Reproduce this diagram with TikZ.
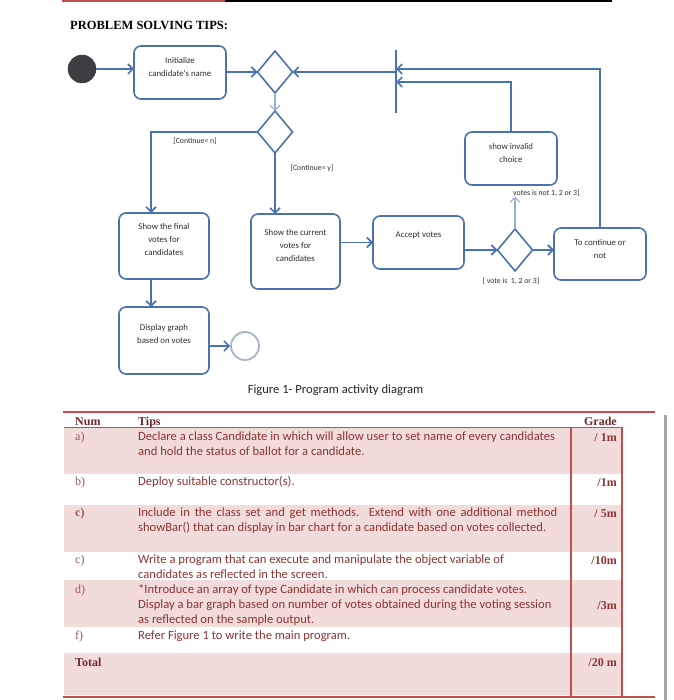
\documentclass[tikz,border=0pt]{standalone}
\usepackage{fontspec}
\setmainfont{Liberation Serif}
\newfontfamily\calibri{Carlito}
\usetikzlibrary{positioning, arrows.meta, shapes.geometric}

\definecolor{flujo}{RGB}{74,114,176}
\definecolor{flujoclaro}{RGB}{150,175,212}
\definecolor{finclaro}{RGB}{165,180,205}
\definecolor{inicio}{RGB}{62,62,66}
\definecolor{texto}{RGB}{45,45,45}
\definecolor{regla}{RGB}{192,80,77}
\definecolor{sombra}{RGB}{242,219,219}
\definecolor{granate}{RGB}{140,52,50}
\definecolor{granateosc}{RGB}{112,40,40}
\definecolor{granateclaro}{RGB}{165,85,82}

\begin{document}
\begin{tikzpicture}[x=1pt, y=-1pt, >={Straight Barb[length=5pt,width=10pt]},
		act/.style={draw=flujo, line width=1.6pt, rounded corners=7pt, inner sep=0pt, outer sep=0pt},
		rombo/.style={draw=flujo, line width=1.6pt, diamond, inner sep=0pt, outer sep=0pt, minimum width=35pt, minimum height=42pt},
		acttxt/.style={font=\calibri\fontsize{8.8}{13}\selectfont, text=texto, align=center, inner sep=0pt},
		guarda/.style={font=\calibri\fontsize{7.8}{9}\selectfont, text=texto, inner sep=0pt},
		flecha/.style={->, draw=flujo, line width=1.6pt},
		flechaclara/.style={->, draw=flujoclaro, line width=1.1pt},
		tip/.style={font=\calibri\fontsize{12.6}{15}\selectfont, text=granate, anchor=base west, inner sep=0pt},
		numero/.style={font=\fontsize{12}{14}\selectfont, text=granateclaro, anchor=base west, inner sep=0pt},
		nota/.style={font=\bfseries\fontsize{12}{14}\selectfont, text=granate, anchor=base east, inner sep=0pt},
		cabecera/.style={font=\bfseries\fontsize{12}{14}\selectfont, text=granateosc, inner sep=0pt}]
		
		\useasboundingbox (0,0) rectangle (673,700);
		
		% --- 1. CABECERA DE LA HOJA ---
		\draw[regla, line width=2pt] (62,1) -- (225,1);
		\draw[black, line width=2pt] (225,1) -- (612,1);
		\node[anchor=west, font=\bfseries\fontsize{12.5}{14}\selectfont, inner sep=0pt] (titulo) at (70,25) {PROBLEM SOLVING TIPS:};
		
		% --- 2. DIAGRAMA DE ACTIVIDAD ---
		% Nodo inicial y final
		\node[circle, fill=inicio, draw=inicio!80!black, minimum size=28pt, inner sep=0pt] (ini) at (82,69) {};
		\node[circle, draw=finclaro, line width=1.8pt, minimum size=28pt, inner sep=0pt] (fin) at (245,346) {};
		
		% Actividades
		\node[act, minimum width=92pt, minimum height=53pt] (init) at (180,72.5) {};
		\node[act, minimum width=90pt, minimum height=66pt] (final) at (164,246) {};
		\node[act, minimum width=89pt, minimum height=75pt] (current) at (295.5,251.5) {};
		\node[act, minimum width=91pt, minimum height=53pt] (accept) at (418.5,242.5) {};
		\node[act, minimum width=92pt, minimum height=53pt] (invalid) at (511,158.5) {};
		\node[act, minimum width=92pt, minimum height=52pt] (cont) at (600,254) {};
		\node[act, minimum width=90pt, minimum height=67pt] (display) at (164,340.5) {};
		
		% Textos de las actividades
		\node[acttxt, below=11pt of init.north] (initT) {Initialize\\candidate's name};
		\node[acttxt, below=10pt of final.north] (finalT) {Show the final\\votes for\\candidates};
		\node[acttxt, below=15pt of current.north] (currentT) {Show the current\\votes for\\candidates};
		\node[acttxt, below=16pt of accept.north] (acceptT) {Accept votes};
		\node[acttxt, below=11pt of invalid.north] (invalidT) {show invalid\\choice};
		\node[acttxt, below=11pt of cont.north] (contT) {To continue or\\not};
		\node[acttxt, below=17pt of display.north] (displayT) {Display graph\\based on votes};
		
		% Decisiones
		\node[rombo] (d1) at (275,72) {};
		\node[rombo] (d2) at (275,132) {};
		\node[rombo] (d3) at (515,250) {};
		
		% Barra de union
		\coordinate (barA) at (396,50);
		\coordinate (barB) at (396,113);
		\coordinate (barIn1) at (396,69);
		\coordinate (barIn2) at (396,82);
		\coordinate (barOut) at (396,72);
		\draw[flujo, line width=1.6pt] (barA) -- (barB);
		
		% Guardas
		\node[guarda] (contN) at (195,141) {[Continue= n]};
		\node[guarda] (contY) at (312,168) {[Continue= y]};
		\node[guarda, anchor=west] (noLbl) at (513,193) {votes is not 1, 2 or 3]};
		\node[guarda] (siLbl) at (511,281) {[ vote is\ \ 1, 2 or 3]};
		
		% Flujos
		\draw[flecha] (ini) -- (ini -| init.west);
		\draw[flecha] (init.east |- d1.west) -- (d1.west);
		\draw[flecha] (barOut) -- (d1.east);
		\draw[flechaclara] (d1.south) -- (d2.north);
		\draw[flecha] (d2.west) -| ([xshift=-13pt]final.north);
		\draw[flecha] (d2.south) -- (d2.south |- current.north);
		\draw[flecha] ([xshift=-13pt]final.south) -- ([xshift=-13pt]display.north);
		\draw[flecha] (display.east |- fin) -- (fin.west);
		\draw[flecha] (current.east |- accept.west) -- (accept.west);
		\draw[flecha] (accept.east |- d3.west) -- (d3.west);
		\draw[flecha] (d3.east) -- (d3.east -| cont.west);
		\draw[flechaclara] (d3.north) -- (d3.north |- noLbl.south);
		\draw[flecha] (cont.north) |- (barIn1);
		\draw[flecha] (invalid.north) |- (barIn2);
		
		\node[font=\calibri\fontsize{12.6}{14}\selectfont, text=black!85, inner sep=0pt] (pie) at (335.5,390) {Figure 1- Program activity diagram};
		
		% --- 3. TABLA DE CONSEJOS ---
		% Filas sombreadas
		\fill[sombra] (64,428) rectangle (622,474);
		\fill[sombra] (64,505) rectangle (622,552);
		\fill[sombra] (64,580) rectangle (622,627);
		\fill[sombra] (64,653) rectangle (622,695);
		
		% Reglas
		\draw[regla, line width=2.5pt] (63,412) -- (623,412);
		\draw[regla, line width=1.2pt] (623,412) -- (655,412);
		\draw[regla, line width=1pt] (64,427) -- (622,427);
		\draw[regla, line width=1.2pt] (571,427) -- (571,696);
		\draw[regla, line width=1.2pt] (622,427) -- (622,696);
		\draw[regla, line width=2.5pt] (63,697) -- (655,697);
		\draw[gray!70, line width=3pt] (665,415) -- (665,700);
		
		% Encabezado
		\node[cabecera, anchor=base west] (hNum) at (75,425) {Num};
		\node[cabecera, anchor=base west] (hTips) at (138,425) {Tips};
		\node[cabecera, anchor=base east] (hGrade) at (617,425) {Grade};
		
		% Fila a)
		\node[numero] (nA) at (75,440) {a)};
		\node[tip] (tA) at (138,440) {\parbox[t]{440pt}{\raggedright Declare a class Candidate in which will allow user to set name of every candidates\\and hold the status of ballot for a candidate.}};
		\node[nota] (gA) at (617,441) {/ 1m};
		
		% Fila b)
		\node[numero] (nB) at (75,485) {b)};
		\node[tip] (tB) at (138,485) {Deploy suitable constructor(s).};
		\node[nota] (gB) at (617,486) {/1m};
		
		% Fila c)
		\node[numero, font=\bfseries\fontsize{12}{14}\selectfont] (nC) at (75,516) {c)};
		\node[tip] (tC) at (138,516) {\parbox[t]{440pt}{\makebox[419pt][s]{Include in the class set and get methods. Extend with one additional method}\\showBar() that can display in bar chart for a candidate based on votes collected.}};
		\node[nota] (gC) at (617,517) {/ 5m};
		
		% Fila c) (segunda)
		\node[numero] (nC2) at (75,563) {c)};
		\node[tip] (tC2) at (138,563) {\parbox[t]{440pt}{\raggedright Write a program that can execute and manipulate the object variable of\\candidates as reflected in the screen.}};
		\node[nota] (gC2) at (617,564) {/10m};
		
		% Fila d)
		\node[numero] (nD) at (75,593) {d)};
		\node[tip] (tD) at (138,593) {\parbox[t]{440pt}{\raggedright *Introduce an array of type Candidate in which can process candidate votes.\\Display a bar graph based on number of votes obtained during the voting session\\as reflected on the sample output.}};
		\node[nota] (gD) at (617,609) {/3m};
		
		% Fila f)
		\node[numero] (nF) at (75,639) {f)};
		\node[tip] (tF) at (138,639) {Refer Figure 1 to write the main program.};
		
		% Total
		\node[cabecera, anchor=base west] (hTotal) at (75,666) {Total};
		\node[nota] (gT) at (617,666) {/20 m};
		
	\end{tikzpicture}
\end{document}
